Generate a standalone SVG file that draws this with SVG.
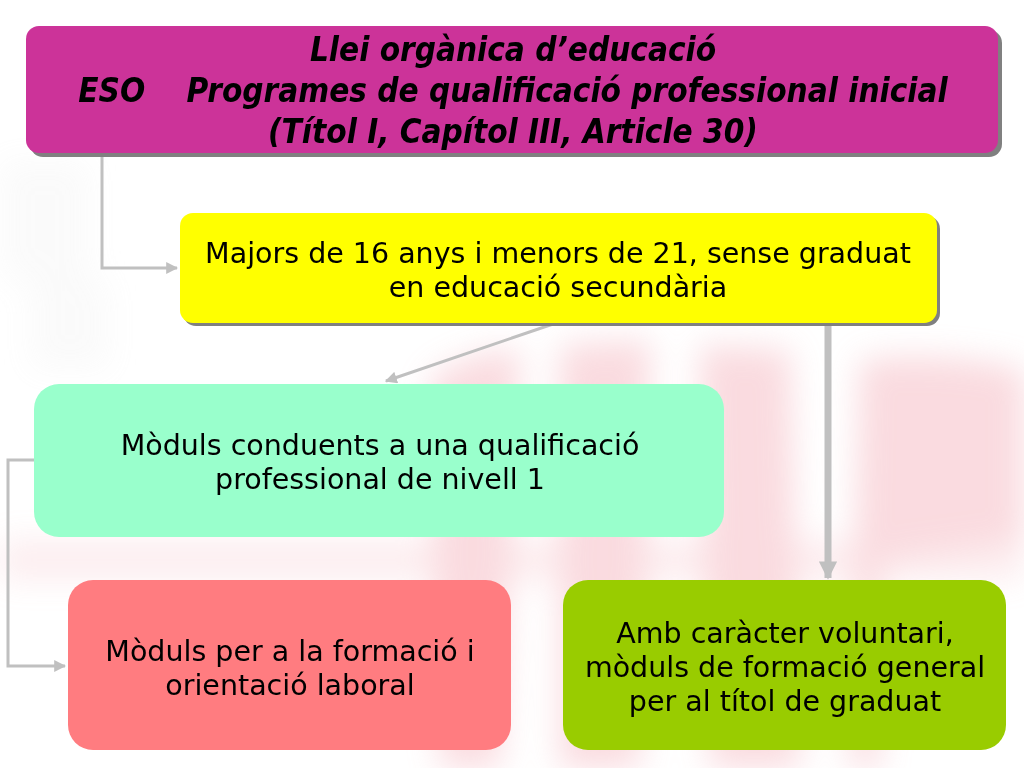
<svg xmlns="http://www.w3.org/2000/svg" width="1024" height="768" viewBox="0 0 1024 768">
<defs>
<style>
.t{font-family:"DejaVu Sans",Verdana,sans-serif;font-size:28.5px;fill:#000;text-anchor:middle}
.h{font-family:"DejaVu Sans Condensed","DejaVu Sans",sans-serif;font-size:33px;font-weight:bold;font-style:italic;fill:#000;text-anchor:middle}
.c{fill:none;stroke:#C0C0C0}
.wm{fill:#F2A0AC}
</style>
<marker id="ah" viewBox="0 0 10 10" refX="9" refY="5" markerWidth="4" markerHeight="4" orient="auto" markerUnits="strokeWidth">
<path d="M0,0 L10,5 L0,10 z" fill="#C0C0C0"/>
</marker>
<marker id="ah2" viewBox="0 0 10 10" refX="9" refY="5" markerWidth="3.2" markerHeight="2.6" orient="auto" markerUnits="strokeWidth">
<path d="M0,0 L10,5 L0,10 z" fill="#C0C0C0"/>
</marker>
<filter id="blur" x="-30%" y="-30%" width="160%" height="160%"><feGaussianBlur stdDeviation="16"/></filter>
</defs>
<rect width="1024" height="768" fill="#fff"/>
<g id="watermark" filter="url(#blur)" opacity="0.38">
<path class="wm" d="M430,380 Q470,350 520,350 L500,768 L440,768 Z"/>
<path class="wm" d="M560,345 L650,340 L640,768 L560,768 Z"/>
<path class="wm" d="M700,345 L790,350 L800,768 L710,768 Z"/>
<path class="wm" d="M860,360 Q940,350 1024,370 L1024,540 L880,560 L880,768 L850,768 Z"/>
<rect class="wm" x="0" y="540" width="1024" height="40" opacity="0.5"/>
<rect x="0" y="160" width="90" height="120" fill="#d8d8d8" opacity="0.3"/>
<rect x="30" y="280" width="80" height="90" fill="#d8d8d8" opacity="0.3"/>
</g>
<g id="connectors">
<path class="c" d="M102,153 V268 H177" stroke-width="3" marker-end="url(#ah)"/>
<path class="c" d="M556,323 L386,381" stroke-width="3" marker-end="url(#ah)"/>
<path class="c" d="M828,326 V578" stroke-width="7" marker-end="url(#ah2)"/>
<path class="c" d="M34,460 H8 V666 H65" stroke-width="3" marker-end="url(#ah)"/>
</g>
<g id="n1">
<rect x="30" y="30" width="972" height="127" rx="13" fill="#808080"/>
<rect x="26" y="26" width="972" height="127" rx="13" fill="#CC3399"/>
<text class="h" x="513" y="61">Llei orgànica d’educació</text>
<text class="h" x="513" y="102" xml:space="preserve">ESO    Programes de qualificació professional inicial</text>
<text class="h" x="513" y="143">(Títol I, Capítol III, Article 30)</text>
</g>
<g id="n2">
<rect x="183" y="216" width="757" height="110" rx="13" fill="#808080"/>
<rect x="180" y="213" width="757" height="110" rx="13" fill="#FFFF00"/>
<text class="t" x="558" y="263">Majors de 16 anys i menors de 21, sense graduat</text>
<text class="t" x="558" y="297">en educació secundària</text>
</g>
<g id="n3">
<rect x="34" y="384" width="690" height="153" rx="25" fill="#99FFCC"/>
<text class="t" x="380" y="455">Mòduls conduents a una qualificació</text>
<text class="t" x="380" y="489">professional de nivell 1</text>
</g>
<g id="n4">
<rect x="68" y="580" width="443" height="170" rx="25" fill="#FF7C80"/>
<text class="t" x="290" y="661">Mòduls per a la formació i</text>
<text class="t" x="290" y="695">orientació laboral</text>
</g>
<g id="n5">
<rect x="563" y="580" width="443" height="170" rx="25" fill="#99CC00"/>
<text class="t" x="785" y="643">Amb caràcter voluntari,</text>
<text class="t" x="785" y="677">mòduls de formació general</text>
<text class="t" x="785" y="711">per al títol de graduat</text>
</g>
</svg>
